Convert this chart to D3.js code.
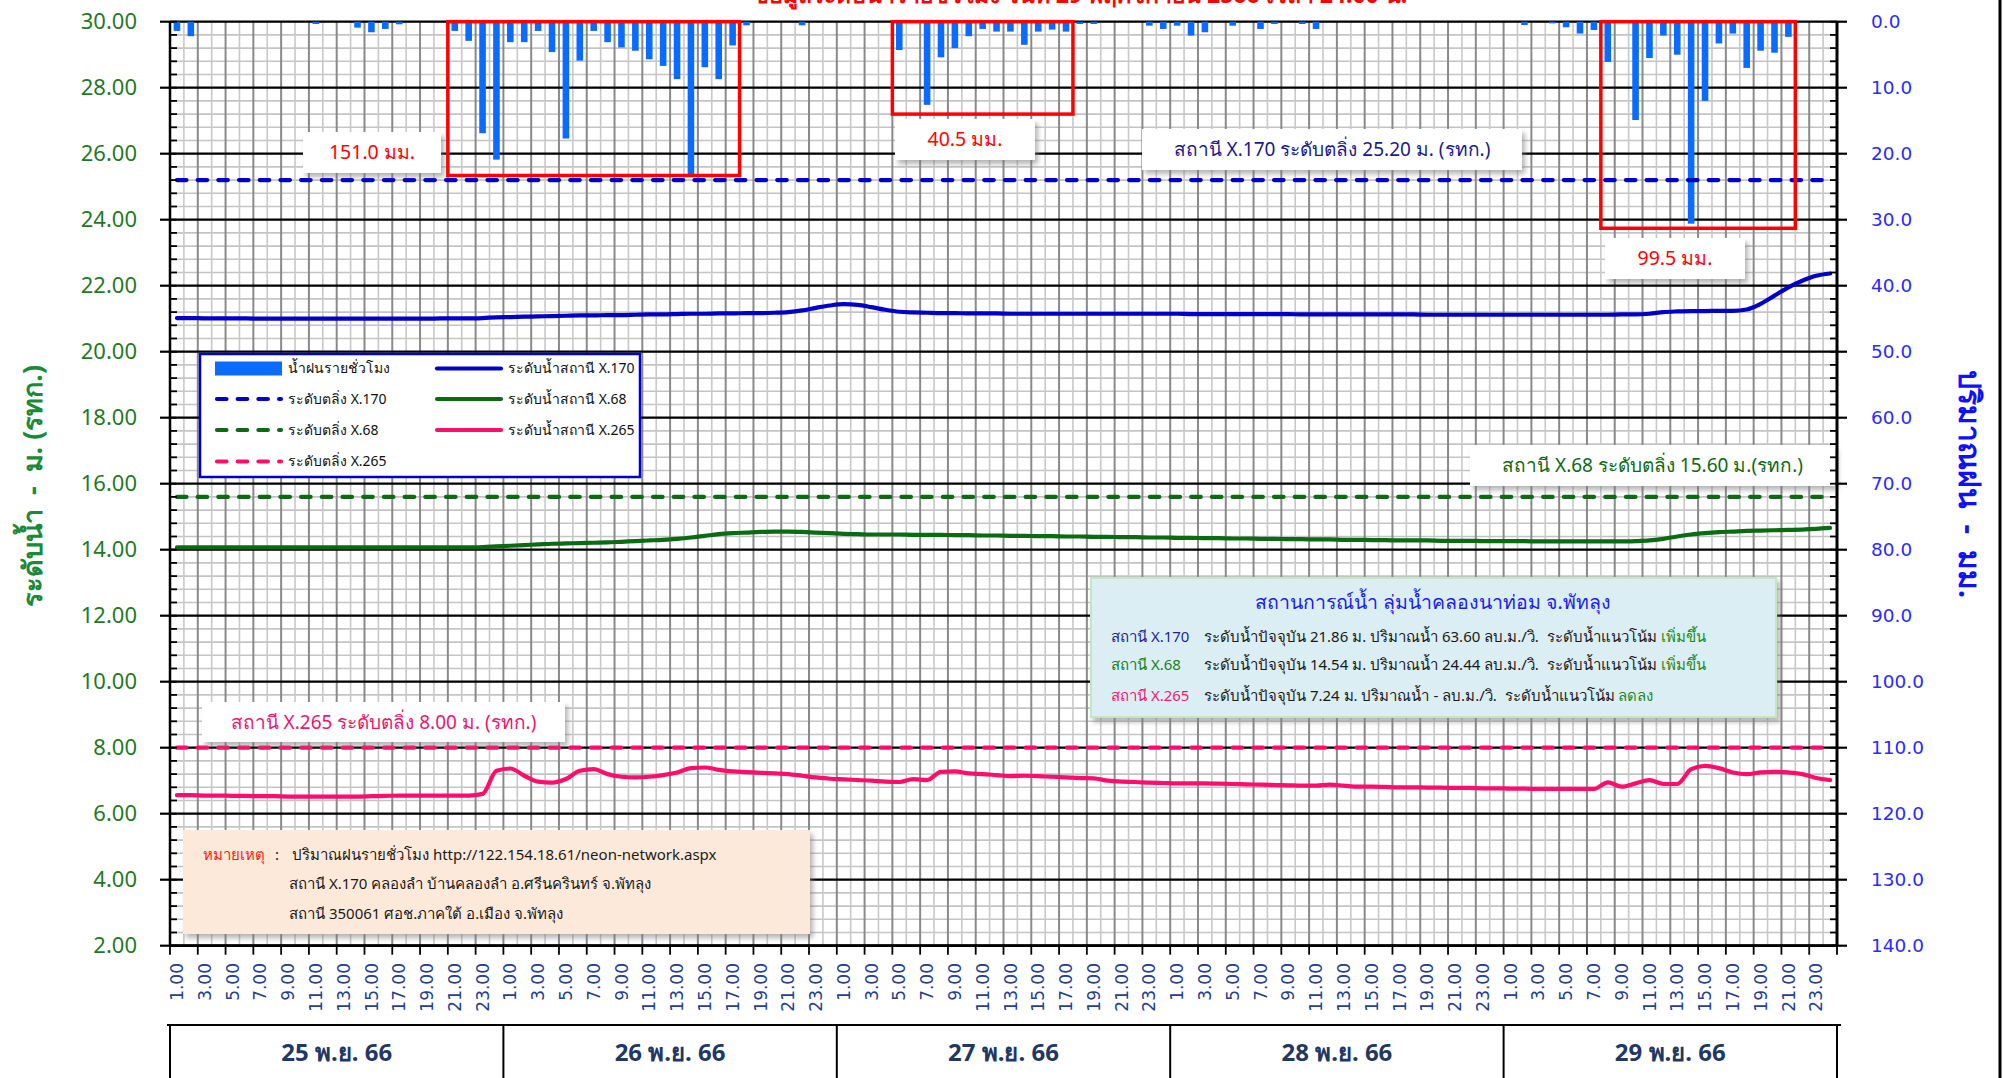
<!DOCTYPE html>
<html><head><meta charset="utf-8">
<script src="https://cdn.jsdelivr.net/npm/d3@7"></script>
<style>body{margin:0;background:#fff}svg{display:block}text{white-space:pre}</style>
</head><body><svg id="c" width="2005" height="1078"></svg>
<script>
// ---------------- DATA ----------------
const days = ["25 พ.ย. 66","26 พ.ย. 66","27 พ.ย. 66","28 พ.ย. 66","29 พ.ย. 66"];
const hours = ["1.00","2.00","3.00","4.00","5.00","6.00","7.00","8.00","9.00","10.00","11.00","12.00",
  "13.00","14.00","15.00","16.00","17.00","18.00","19.00","20.00","21.00","22.00","23.00","24.00"];
// hourly rainfall (mm), 120 hours
const rain = [
  1.4,2.2,0,0,0,0,0,0,0,0, 0.35,0,0,0.9,1.6,1.1,0.4,0,0,0,
  1.4,2.9,16.9,20.9,3.1,3.1,1.4,4.6,17.7,5.9, 1.4,3.1,3.9,4.4,5.7,6.7,8.7,23.1,6.9,8.7,
  3.6,0.55,0,0,0,0.55,0,0,0,0, 0,0,4.3,0,12.6,5.4,4.0,2.2,1.1,1.5,
  1.5,3.5,1.5,1.2,1.5,0.35,0.35,0,0,0, 0.6,1.1,0.6,2.1,1.6,0,0.6,0,1.1,0.35,
  0,0.35,1.1,0,0,0,0,0,0,0, 0,0,0,0,0,0,0,0.5,0,0.25,
  0.85,1.8,1.25,6.1,0,14.9,5.5,2.1,5.0,30.6, 12.0,3.3,1.8,7.0,4.4,4.7,2.3,0,0,0
];
const level170 = [
  21.02,21.02,21.01,21.01,21.01,21.01,21.0,21.0,21.0,21.0, 21.0,21.0,21.0,21.0,21.0,21.0,21.0,21.0,21.0,21.01,
  21.01,21.01,21.02,21.04,21.05,21.06,21.07,21.08,21.09,21.1, 21.1,21.11,21.11,21.12,21.13,21.13,21.14,21.15,21.15,21.16,
  21.16,21.17,21.17,21.18,21.2,21.25,21.33,21.4,21.44,21.42, 21.35,21.27,21.21,21.19,21.18,21.17,21.17,21.16,21.16,21.16,
  21.15,21.15,21.15,21.15,21.15,21.15,21.15,21.15,21.15,21.15, 21.15,21.15,21.15,21.14,21.14,21.14,21.14,21.14,21.14,21.14,
  21.14,21.13,21.13,21.13,21.13,21.13,21.13,21.13,21.13,21.13, 21.12,21.12,21.12,21.12,21.12,21.12,21.12,21.12,21.12,21.12,
  21.12,21.12,21.12,21.12,21.13,21.13,21.15,21.2,21.22,21.23, 21.23,21.24,21.24,21.28,21.45,21.7,21.95,22.15,22.3,22.37
];
const level68 = [
  14.07,14.07,14.07,14.07,14.07,14.07,14.07,14.07,14.07,14.07, 14.07,14.07,14.07,14.07,14.07,14.07,14.07,14.07,14.07,14.07,
  14.07,14.07,14.08,14.1,14.12,14.14,14.16,14.18,14.19,14.2, 14.21,14.22,14.24,14.26,14.28,14.3,14.33,14.37,14.42,14.47,
  14.5,14.52,14.54,14.55,14.55,14.54,14.52,14.5,14.48,14.47, 14.46,14.46,14.46,14.45,14.45,14.45,14.44,14.44,14.43,14.43,
  14.42,14.42,14.41,14.41,14.4,14.4,14.39,14.39,14.38,14.38, 14.37,14.37,14.36,14.36,14.35,14.35,14.34,14.34,14.33,14.33,
  14.32,14.32,14.31,14.31,14.3,14.3,14.29,14.29,14.28,14.28, 14.28,14.27,14.27,14.27,14.26,14.26,14.26,14.26,14.25,14.25,
  14.25,14.25,14.25,14.25,14.25,14.26,14.28,14.33,14.4,14.46, 14.5,14.53,14.55,14.57,14.58,14.59,14.6,14.61,14.63,14.66
];
const level265 = [
  6.56,6.56,6.55,6.55,6.54,6.54,6.53,6.53,6.52,6.52, 6.52,6.52,6.52,6.52,6.53,6.54,6.55,6.55,6.55,6.55,
  6.55,6.55,6.6,7.3,7.37,7.15,6.97,6.94,7.05,7.3, 7.35,7.2,7.12,7.1,7.12,7.17,7.25,7.38,7.4,7.33,
  7.28,7.26,7.24,7.22,7.2,7.15,7.1,7.06,7.04,7.02, 7.0,6.97,6.96,7.05,7.02,7.27,7.28,7.22,7.2,7.17,
  7.14,7.15,7.14,7.12,7.1,7.08,7.07,7.0,6.97,6.96, 6.94,6.93,6.92,6.92,6.92,6.91,6.9,6.89,6.88,6.87,
  6.86,6.85,6.85,6.88,6.85,6.82,6.82,6.81,6.8,6.8, 6.79,6.79,6.78,6.78,6.77,6.77,6.76,6.76,6.75,6.75,
  6.75,6.75,6.75,6.95,6.82,6.92,7.02,6.9,6.9,7.35, 7.45,7.38,7.25,7.2,7.25,7.27,7.25,7.2,7.08,7.02
];
const bankLevels = [25.2, 15.6, 8.0];
const leftTicks = [2,4,6,8,10,12,14,16,18,20,22,24,26,28,30];
const rightTicks = [0,10,20,30,40,50,60,70,80,90,100,110,120,130,140];
const rainTotals = [
  {from:20, to:40, depth:23.3, label:"151.0 มม."},
  {from:52, to:64, depth:14.0, label:"40.5 มม."},
  {from:103, to:116, depth:31.3, label:"99.5 มม."}
];

// ---------------- SETUP ----------------
const N = days.length * hours.length;
const FONT = "Tahoma,'Noto Sans','DejaVu Sans',sans-serif";
const svg = d3.select("#c");
svg.append("rect").attr("width",2005).attr("height",1078).attr("fill","#fff");
const defs = svg.append("defs");
const f = defs.append("filter").attr("id","sh").attr("x","-10%").attr("y","-10%").attr("width","130%").attr("height","140%");
f.append("feDropShadow").attr("dx",3).attr("dy",4).attr("stdDeviation",2.5).attr("flood-color","#777").attr("flood-opacity",0.55);

const L = 170, R = 1837, T = 21.7, B = 945.7;
const x = d3.scaleBand().domain(d3.range(N)).range([L, R]).padding(0);
const cx = i => x(i) + x.bandwidth()/2;
const yL = d3.scaleLinear().domain([2,30]).range([B,T]);
const yR = d3.scaleLinear().domain([0,140]).range([T,B]);

// ---------------- GRID ----------------
const g = svg.append("g");
g.selectAll(".hm").data(d3.range(0,71)).join("line")
  .attr("x1",L).attr("x2",R).attr("y1",d=>yL(2+d*0.4)).attr("y2",d=>yL(2+d*0.4))
  .attr("stroke","#c4c4c4").attr("stroke-width",1.6);
g.selectAll(".vl").data(d3.range(1,N)).join("line")
  .attr("x1",d=>x(d)).attr("x2",d=>x(d)).attr("y1",T).attr("y2",B)
  .attr("stroke",d=>d%2===0?"#8a8a8a":"#c8c8c8").attr("stroke-width",d=>d%2===0?2:1.6);
g.selectAll(".hM").data(leftTicks).join("line")
  .attr("x1",L).attr("x2",R).attr("y1",d=>yL(d)).attr("y2",d=>yL(d))
  .attr("stroke","#000").attr("stroke-width",2.2);

// ---------------- RAIN BARS ----------------
svg.append("g").selectAll("rect").data(rain.map((v,i)=>({v,i})).filter(d=>d.v>0)).join("rect")
  .attr("x",d=>cx(d.i)-3.3).attr("width",6.6)
  .attr("y",yR(0)).attr("height",d=>yR(d.v)-yR(0))
  .attr("fill","#0a6cff");

// ---------------- BANK LINES ----------------
const bankColors = ["#0000cc","#0b6b12","#ff0d6a"];
bankLevels.forEach((lv,k)=>{
  svg.append("line").attr("x1",cx(0)).attr("x2",cx(N-1)).attr("y1",yL(lv)).attr("y2",yL(lv))
    .attr("stroke",bankColors[k]).attr("stroke-width",4.2).attr("stroke-linecap","round")
    .attr("stroke-dasharray","9.5,11.2");
});

// ---------------- LEVEL LINES ----------------
const line = d3.line().x((d,i)=>cx(i)).y(d=>yL(d)).curve(d3.curveMonotoneX);
[[level170,"#0000c8"],[level68,"#0b6b12"],[level265,"#ff0d6a"]].forEach(([arr,c])=>{
  svg.append("path").attr("d",line(arr)).attr("fill","none").attr("stroke",c)
    .attr("stroke-width",4.2).attr("stroke-linejoin","round").attr("stroke-linecap","round");
});

// ---------------- RAIN TOTAL BOXES ----------------
rainTotals.forEach(r=>{
  svg.append("rect").attr("x",x(r.from)).attr("y",yR(0)).attr("width",x(r.to)+x.bandwidth()-x(r.from))
    .attr("height",yR(r.depth)-yR(0)).attr("fill","none").attr("stroke","#ff0000").attr("stroke-width",3.5);
});
function labelBox(x0,y0,w,h,text,color,size,weight){
  svg.append("rect").attr("x",x0).attr("y",y0).attr("width",w).attr("height",h).attr("fill","#fff").attr("filter","url(#sh)");
  svg.append("text").attr("x",x0+w/2).attr("y",y0+h/2).attr("dy","0.35em").attr("text-anchor","middle")
    .attr("font-family",FONT).attr("font-size",size).attr("font-weight",weight||"normal").attr("fill",color).text(text);
}
labelBox(303,132,138,41,rainTotals[0].label,"#ff0000",19.5);
labelBox(895,119,140,41,rainTotals[1].label,"#ff0000",19.5);
labelBox(1605,238,140,41,rainTotals[2].label,"#ff0000",19.5);
labelBox(1142,129,380,41,"สถานี X.170 ระดับตลิ่ง 25.20 ม. (รทก.)","#1a1a8c",19);
labelBox(1470,445,365,41,"สถานี X.68 ระดับตลิ่ง 15.60 ม.(รทก.)","#0b6b12",19);
labelBox(202,702,363,40,"สถานี X.265 ระดับตลิ่ง 8.00 ม. (รทก.)","#e8186d",19);

// ---------------- LEGEND ----------------
const lg = svg.append("g");
lg.append("rect").attr("x",200).attr("y",354).attr("width",440).attr("height",123).attr("fill","#fff")
  .attr("stroke","#0000cc").attr("stroke-width",2.5);
const legendItems = [
  {col:0,row:0,type:"bar",color:"#0a6cff",text:"น้ำฝนรายชั่วโมง"},
  {col:0,row:1,type:"dash",color:bankColors[0],text:"ระดับตลิ่ง X.170"},
  {col:0,row:2,type:"dash",color:bankColors[1],text:"ระดับตลิ่ง X.68"},
  {col:0,row:3,type:"dash",color:bankColors[2],text:"ระดับตลิ่ง X.265"},
  {col:1,row:0,type:"line",color:"#0000c8",text:"ระดับน้ำสถานี X.170"},
  {col:1,row:1,type:"line",color:"#0b6b12",text:"ระดับน้ำสถานี X.68"},
  {col:1,row:2,type:"line",color:"#ff0d6a",text:"ระดับน้ำสถานี X.265"}
];
const rowY = [368.5,399,430,461.5];
legendItems.forEach(it=>{
  const sx = it.col===0?215:435, y = rowY[it.row];
  if(it.type==="bar") lg.append("rect").attr("x",sx).attr("y",y-7).attr("width",67).attr("height",14).attr("fill",it.color);
  else lg.append("line").attr("x1",sx+2).attr("x2",sx+66).attr("y1",y).attr("y2",y).attr("stroke",it.color)
    .attr("stroke-width",4.2).attr("stroke-linecap","round").attr("stroke-dasharray",it.type==="dash"?"9.5,11.2":null);
  lg.append("text").attr("x",sx+73).attr("y",y).attr("dy","0.35em").attr("font-family",FONT).attr("font-size",14)
    .attr("fill","#111").text(it.text);
});

// ---------------- SITUATION BOX ----------------
svg.append("rect").attr("x",1091).attr("y",578).attr("width",685).attr("height",139).attr("fill","#daeef3")
  .attr("stroke","#c5e6bf").attr("stroke-width",2).attr("filter","url(#sh)");
svg.append("text").attr("x",1433).attr("y",602).attr("dy","0.35em").attr("text-anchor","middle")
  .attr("font-family",FONT).attr("font-size",19.5).attr("fill","#1c1cf0").text("สถานการณ์น้ำ ลุ่มน้ำคลองนาท่อม จ.พัทลุง");
const sit = [
  {y:636.5, st:"สถานี X.170", c:"#1f1f9a", body:"ระดับน้ำปัจจุบัน 21.86 ม. ปริมาณน้ำ 63.60 ลบ.ม./วิ.  ระดับน้ำแนวโน้ม ", trend:"เพิ่มขึ้น"},
  {y:664.5, st:"สถานี X.68", c:"#17801c", body:"ระดับน้ำปัจจุบัน 14.54 ม. ปริมาณน้ำ 24.44 ลบ.ม./วิ.  ระดับน้ำแนวโน้ม ", trend:"เพิ่มขึ้น"},
  {y:695.5, st:"สถานี X.265", c:"#ee1a72", body:"ระดับน้ำปัจจุบัน 7.24 ม. ปริมาณน้ำ - ลบ.ม./วิ.  ระดับน้ำแนวโน้ม ", trend:"ลดลง"}
];
sit.forEach(s=>{
  svg.append("text").attr("x",1111).attr("y",s.y).attr("dy","0.35em").attr("font-family",FONT).attr("font-size",15)
    .attr("fill",s.c).text(s.st);
  const t = svg.append("text").attr("x",1204).attr("y",s.y).attr("dy","0.35em").attr("font-family",FONT).attr("font-size",15).attr("fill","#1a1a1a");
  t.append("tspan").text(s.body);
  t.append("tspan").attr("fill","#1e8a1e").text(s.trend);
});

// ---------------- NOTE BOX ----------------
svg.append("rect").attr("x",183).attr("y",830).attr("width",627).attr("height",104).attr("fill","#fde9d9").attr("filter","url(#sh)");
const nt = (xx,yy,txt,c)=>svg.append("text").attr("x",xx).attr("y",yy).attr("dy","0.35em").attr("font-family",FONT)
  .attr("font-size",15).attr("fill",c).text(txt);
nt(203,854.5,"หมายเหตุ","#ff1a1a"); nt(275,854.5,":","#1a1a1a");
nt(292,854.5,"ปริมาณฝนรายชั่วโมง http://122.154.18.61/neon-network.aspx","#1a1a1a");
nt(289,884,"สถานี X.170 คลองลำ บ้านคลองลำ อ.ศรีนครินทร์ จ.พัทลุง","#1a1a1a");
nt(289,913.5,"สถานี 350061 ศอช.ภาคใต้ อ.เมือง จ.พัทลุง","#1a1a1a");

// ---------------- AXES ----------------
const ax = svg.append("g");
ax.append("line").attr("x1",L).attr("x2",L).attr("y1",T).attr("y2",B).attr("stroke","#000").attr("stroke-width",2.5);
ax.selectAll(".lmin").data(d3.range(0,71)).join("line").attr("x1",L).attr("x2",L+7)
  .attr("y1",d=>yL(2+d*0.4)).attr("y2",d=>yL(2+d*0.4)).attr("stroke","#000").attr("stroke-width",1.8);
ax.selectAll(".lmaj").data(leftTicks).join("line").attr("x1",L-10).attr("x2",L).attr("y1",d=>yL(d)).attr("y2",d=>yL(d))
  .attr("stroke","#000").attr("stroke-width",2.2);
ax.selectAll(".ltl").data(leftTicks).join("text").attr("x",137).attr("y",d=>yL(d)).attr("dy","0.35em")
  .attr("text-anchor","end").attr("font-family",FONT).attr("font-size",22).attr("fill","#1f7a1f").text(d=>d.toFixed(2));
ax.append("line").attr("x1",R).attr("x2",R).attr("y1",T).attr("y2",B).attr("stroke","#000").attr("stroke-width",3);
ax.selectAll(".rmin").data(d3.range(0,71)).join("line").attr("x1",R-7).attr("x2",R)
  .attr("y1",d=>yR(d*2)).attr("y2",d=>yR(d*2)).attr("stroke","#000").attr("stroke-width",1.8);
ax.selectAll(".rmaj").data(rightTicks).join("line").attr("x1",R).attr("x2",R+10).attr("y1",d=>yR(d)).attr("y2",d=>yR(d))
  .attr("stroke","#000").attr("stroke-width",2.2);
ax.selectAll(".rtl").data(rightTicks).join("text").attr("x",1871).attr("y",d=>yR(d)).attr("dy","0.35em")
  .attr("font-family","'DejaVu Sans',Verdana,sans-serif").attr("font-size",18.5).attr("fill","#2a2aff").text(d=>d.toFixed(1));
ax.append("line").attr("x1",L).attr("x2",R).attr("y1",B).attr("y2",B).attr("stroke","#000").attr("stroke-width",2.8);
ax.selectAll(".bt").data(d3.range(0,N+1,2)).join("line").attr("x1",d=>L+d*x.bandwidth()).attr("x2",d=>L+d*x.bandwidth())
  .attr("y1",B).attr("y2",B+9).attr("stroke","#000").attr("stroke-width",1.8);
ax.selectAll(".btl").data(d3.range(0,N,2)).join("text")
  .attr("transform",d=>`translate(${cx(d)},963) rotate(-90)`).attr("dy","0.36em").attr("text-anchor","end")
  .attr("font-family","'DejaVu Sans',Verdana,sans-serif").attr("font-size",17).attr("fill","#24408f")
  .text(d=>hours[d % hours.length]);
const dayW = x.bandwidth()*hours.length;
ax.append("line").attr("x1",167).attr("x2",1841).attr("y1",1025).attr("y2",1025).attr("stroke","#000").attr("stroke-width",2);
ax.selectAll(".dv").data(d3.range(0,days.length+1)).join("line").attr("x1",d=>L+d*dayW).attr("x2",d=>L+d*dayW)
  .attr("y1",1025).attr("y2",1078).attr("stroke","#000").attr("stroke-width",2);
ax.selectAll(".dt").data(days).join("text").attr("x",(d,i)=>L+(i+0.5)*dayW).attr("y",1053).attr("dy","0.35em")
  .attr("text-anchor","middle").attr("font-family",FONT).attr("font-size",24).attr("font-weight","bold").attr("fill","#1f3864").text(d=>d);

svg.append("text").attr("transform","translate(33,486) rotate(-90)").attr("dy","0.35em").attr("text-anchor","middle")
  .attr("font-family",FONT).attr("font-size",27).attr("font-weight","bold").attr("fill","#1a8a3a").text("ระดับน้ำ  -  ม. (รทก.)");
svg.append("text").attr("transform","translate(1969,484) rotate(90)").attr("dy","0.35em").attr("text-anchor","middle")
  .attr("font-family",FONT).attr("font-size",30).attr("font-weight","bold").attr("fill","#1010ff").text("ปริมาณฝน  -  มม.");

svg.append("text").attr("x",1080).attr("y",3).attr("text-anchor","middle").attr("font-family",FONT).attr("font-size",23)
  .attr("font-weight","bold").attr("fill","#ff0000").text("ข้อมูลระดับน้ำรายชั่วโมง วันที่ 29 พฤศจิกายน 2566 เวลา 24.00 น.");

svg.append("line").attr("x1",2000).attr("x2",2000).attr("y1",0).attr("y2",1078).attr("stroke","#000").attr("stroke-width",3);
</script></body></html>
